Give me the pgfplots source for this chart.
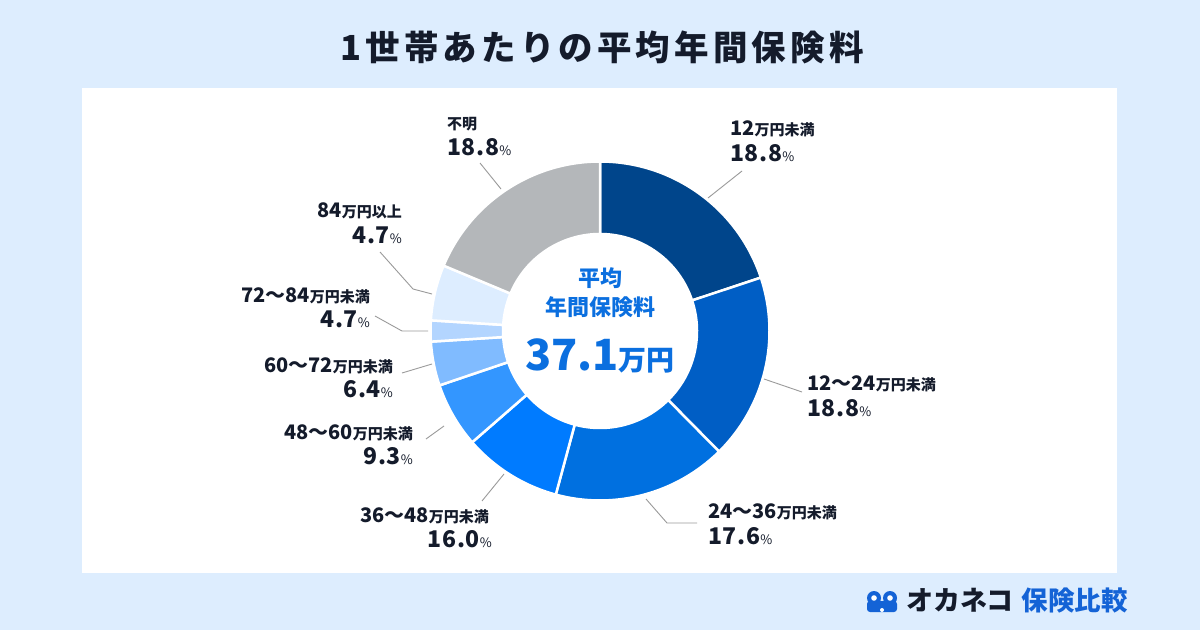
\documentclass[border=0pt]{standalone}
\usepackage{fontspec}
\setmainfont{Noto Sans CJK JP}
\usepackage{pgfplots}
\pgfplotsset{compat=1.18}
\definecolor{bg}{HTML}{DDEDFE}
\definecolor{txt}{HTML}{141B2B}
\definecolor{cblue}{HTML}{0B6FDF}
\definecolor{logoblue}{HTML}{1463D6}
\definecolor{c1}{HTML}{00458B}
\definecolor{c2}{HTML}{005EC5}
\definecolor{c3}{HTML}{0070E0}
\definecolor{c4}{HTML}{007BFF}
\definecolor{c5}{HTML}{3396FF}
\definecolor{c6}{HTML}{80BBFF}
\definecolor{c7}{HTML}{B3D5FF}
\definecolor{c8}{HTML}{DDEDFF}
\definecolor{c9}{HTML}{B4B7BA}
\definecolor{leadc}{HTML}{9A9A9A}
% wedge: start %, end % (cumulative), colour
\newcommand{\wedgeseg}[3]{%
  \fill[#3, draw=white, line width=2.5pt, line join=round]
    (axis cs:600,299) ++({90-3.6*#1}:169.5pt)
    arc[start angle={90-3.6*#1}, end angle={90-3.6*#2}, radius=169.5pt]
    -- ++({90-3.6*#2}:-72.5pt)
    arc[start angle={90-3.6*#2}, end angle={90-3.6*#1}, radius=97pt]
    -- cycle;}
\newcommand{\rng}[2]{{\bfseries\fontsize{20}{20}\selectfont #1}{\bfseries\fontsize{15}{15}\selectfont #2}}
\newcommand{\pct}[1]{{\bfseries\fontsize{23}{23}\selectfont\addfontfeature{LetterSpace=3}#1}{\fontsize{13}{13}\selectfont\%}}
\begin{document}
\begin{tikzpicture}
\fill[bg] (0pt,0pt) rectangle (1200pt,630pt);
\fill[white] (82pt,57pt) rectangle (1117pt,542pt);
\begin{axis}[at={(0pt,0pt)}, anchor=south west, scale only axis,
  width=1200pt, height=630pt, xmin=0, xmax=1200, ymin=0, ymax=630,
  enlargelimits=false, hide axis, clip=false]
% donut (cumulative percentages)
\wedgeseg{0}{19.9}{c1}
\wedgeseg{19.9}{37.6}{c2}
\wedgeseg{37.6}{54.2}{c3}
\wedgeseg{54.2}{63.6}{c4}
\wedgeseg{63.6}{69.8}{c5}
\wedgeseg{69.8}{74.0}{c6}
\wedgeseg{74.0}{76.0}{c7}
\wedgeseg{76.0}{81.3}{c8}
\wedgeseg{81.3}{100}{c9}
% leader lines
\begin{scope}[leadc, line width=0.9pt]
\draw (axis cs:708,432) -- (axis cs:742,459);
\draw (axis cs:764,251) -- (axis cs:802,238);
\draw (axis cs:646,131) -- (axis cs:667,107) -- (axis cs:697,107);
\draw (axis cs:504,156) -- (axis cs:482,129);
\draw (axis cs:444,204) -- (axis cs:426,191);
\draw (axis cs:432,266) -- (axis cs:402,257);
\draw (axis cs:428,299) -- (axis cs:402,299) -- (axis cs:375,314);
\draw (axis cs:432,336) -- (axis cs:413,341) -- (axis cs:380,378);
\draw (axis cs:501,441) -- (axis cs:480,467);
\end{scope}
% labels
\begin{scope}[every node/.style={inner sep=0pt, text=txt}]
\node[anchor=base west] at (axis cs:730,494) {\rng{12}{万円未満}};
\node[anchor=base west] at (axis cs:730,468) {\pct{18.8}};
\node[anchor=base west] at (axis cs:807,239) {\rng{12〜24}{万円未満}};
\node[anchor=base west] at (axis cs:807,214) {\pct{18.8}};
\node[anchor=base west] at (axis cs:708,112) {\rng{24〜36}{万円未満}};
\node[anchor=base west] at (axis cs:708,86) {\pct{17.6}};
\node[anchor=base east] at (axis cs:489,108) {\rng{36〜48}{万円未満}};
\node[anchor=base east] at (axis cs:492,83) {\pct{16.0}};
\node[anchor=base east] at (axis cs:413,190) {\rng{48〜60}{万円未満}};
\node[anchor=base east] at (axis cs:413,165) {\pct{9.3}};
\node[anchor=base east] at (axis cs:393,257) {\rng{60〜72}{万円未満}};
\node[anchor=base east] at (axis cs:393,233) {\pct{6.4}};
\node[anchor=base east] at (axis cs:370,327) {\rng{72〜84}{万円未満}};
\node[anchor=base east] at (axis cs:370,302) {\pct{4.7}};
\node[anchor=base east] at (axis cs:402,412) {\rng{84}{万円以上}};
\node[anchor=base east] at (axis cs:402,386) {\pct{4.7}};
\node[anchor=base west] at (axis cs:447,500) {\rng{}{不明}};
\node[anchor=base west] at (axis cs:447,474) {\pct{18.8}};
\end{scope}
% centre text
\begin{scope}[every node/.style={inner sep=0pt, text=cblue}]
\node[anchor=base] at (axis cs:600,343) {\bfseries\fontsize{22}{22}\selectfont 平均};
\node[anchor=base] at (axis cs:600,314) {\bfseries\fontsize{22}{22}\selectfont 年間保険料};
\node[anchor=base] at (axis cs:600,259.5) {{\bfseries\fontsize{43}{43}\selectfont 37.1}{\bfseries\fontsize{28}{28}\selectfont 万円}};
\end{scope}
% title
\node[anchor=base, inner sep=0pt, text=txt] at (axis cs:602,569) {\bfseries\fontsize{34.5}{34.5}\selectfont\addfontfeature{LetterSpace=12}1世帯あたりの平均年間保険料};
% logo
\fill[logoblue] (axis cs:874,32) circle[radius=7pt];
\fill[logoblue] (axis cs:890,32) circle[radius=7pt];
\fill[logoblue, rounded corners=3pt] (axis cs:867,18) rectangle (axis cs:897,29);
\fill[white] (axis cs:874,32) circle[radius=2.8pt];
\fill[white] (axis cs:890,32) circle[radius=2.8pt];
\fill[white] (axis cs:882,20) circle[radius=2pt];
\node[anchor=base west, inner sep=0pt, text=txt] at (axis cs:906,20) {\bfseries\fontsize{27}{27}\selectfont オカネコ};
\node[anchor=base east, inner sep=0pt, text=logoblue] at (axis cs:1128,20) {\bfseries\fontsize{26.5}{26.5}\selectfont 保険比較};
\end{axis}
\end{tikzpicture}
\end{document}
